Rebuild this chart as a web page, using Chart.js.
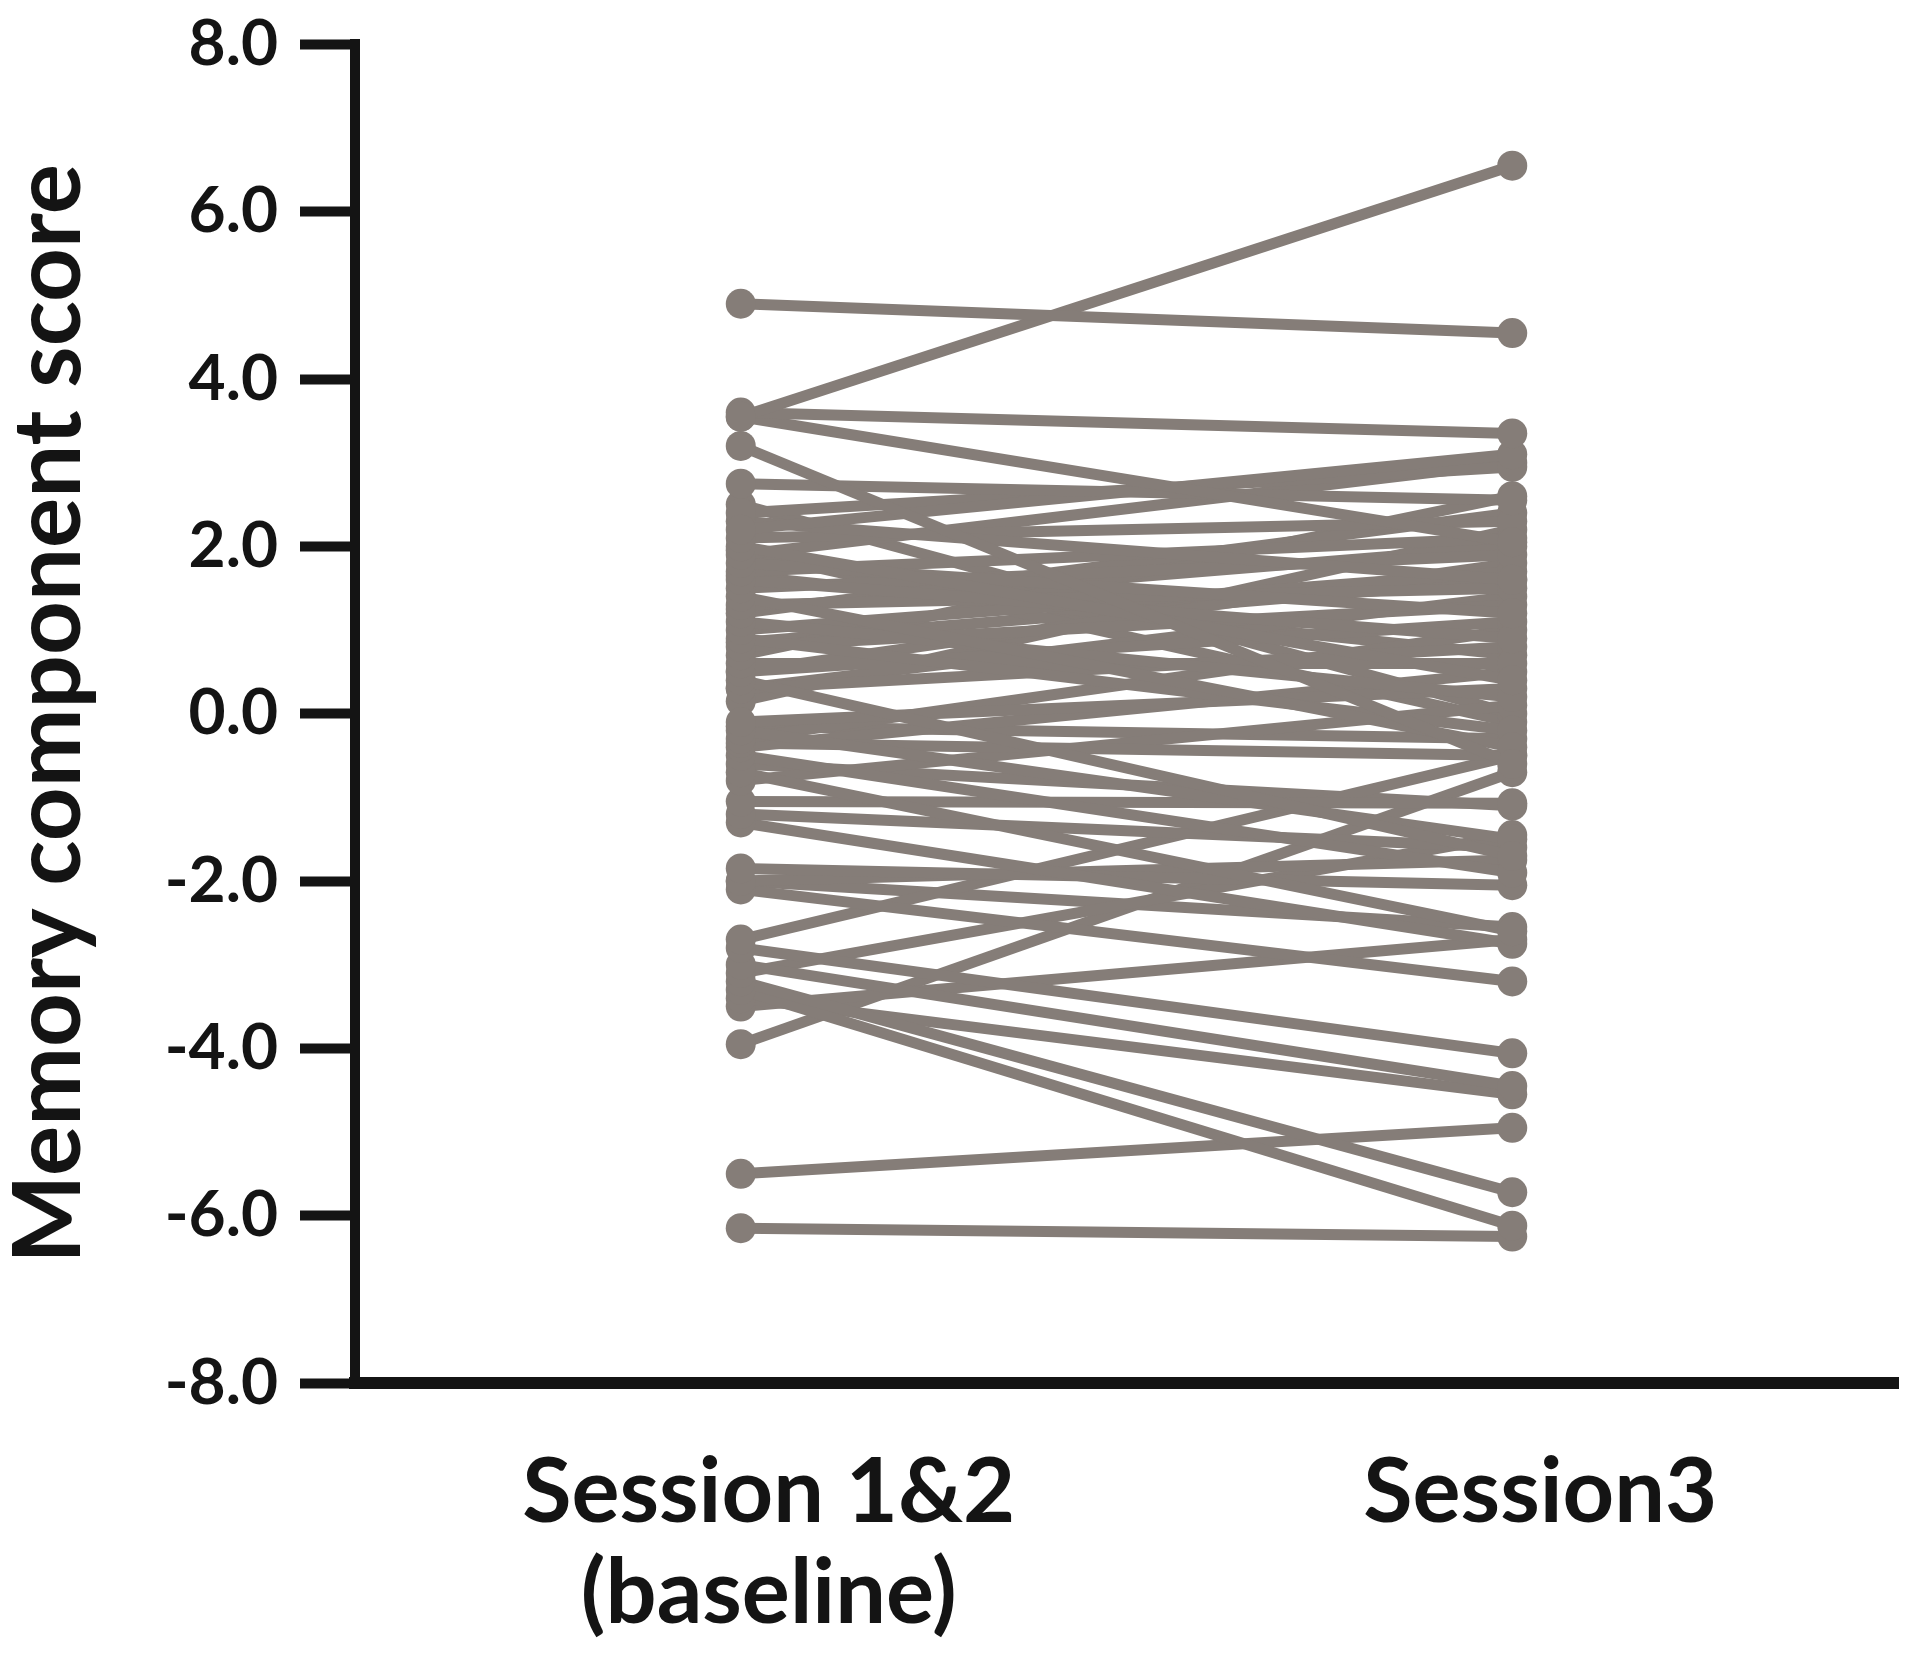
<!DOCTYPE html>
<html>
<head>
<meta charset="utf-8">
<script src="https://cdn.jsdelivr.net/npm/chart.js@4"></script>
<style>
  html, body { margin: 0; padding: 0; background: #fff; }
  #wrap { width: 1920px; height: 1655px; }
</style>
</head>
<body>
<div id="wrap"><canvas id="chart"></canvas></div>
<script>
// session labels (x categories)
const sessions = [['Session 1&2', '(baseline)'], 'Session3'];

// y axis tick values
const yTicks = [8, 6, 4, 2, 0, -2, -4, -6, -8];

// one score per subject
const baselineScores = [
  4.90, 3.55, 3.60, 3.55, 3.20, 2.75, 2.20, 2.40, 2.30, 2.10,
  2.00, 1.90, 1.80, 1.70, 1.60, 1.50, 1.40, 1.30, 1.20, 1.10,
  1.00, 0.90, 0.80, 0.70, 0.60, 0.50, 0.40, 0.30, 0.50, 0.30,
  -0.10, -0.20, -0.30, -0.35, -0.40, -0.50, -0.70, -0.80, -1.05, -1.20,
  -1.30, -1.85, -2.00, -2.10, -2.70, -2.80, -3.00, -3.10, -3.20, -3.30,
  -3.40, -3.50, -3.95, -5.50, -6.15, -2.00, 2.50, 1.95, 1.65, 1.25,
  0.85, 0.15, -0.15, -0.60
];
const session3Scores = [
  4.55, 6.55, 3.35, 2.05, -0.60, 2.55, 3.10, 2.95, 1.60, 2.30,
  0.40, 3.00, 1.20, 2.10, 0.90, 1.90, -0.40, 1.50, 2.40, 0.20,
  1.70, -0.20, 1.30, 2.60, 0.60, 1.10, -1.70, 0.80, 1.80, 1.40,
  0.30, -1.50, 1.00, -0.50, 0.50, -1.90, -2.60, 0.10, -1.07, -1.60,
  -2.75, -2.05, -1.75, -3.20, -0.50, -4.06, -4.45, -1.45, -5.72, -6.12,
  -4.55, -2.70, -0.70, -4.95, -6.25, -2.55, 0.00, -0.10, 0.70, 2.00,
  1.60, 2.20, -0.30, -1.10
];

const lineColor = '#857d78';
const inkColor = '#141414';
const fontFamily = 'Lato, "Open Sans", sans-serif';

const datasets = baselineScores.map((v, i) => ({
  data: [v, session3Scores[i]],
  borderColor: lineColor,
  backgroundColor: lineColor,
  borderWidth: 11,
  pointRadius: 15,
  pointBorderWidth: 0,
  pointHoverRadius: 15,
  tension: 0
}));

const ctx = document.getElementById('chart').getContext('2d');
new Chart(ctx, {
  type: 'line',
  data: {
    labels: sessions,
    datasets: datasets
  },
  options: {
    responsive: true,
    maintainAspectRatio: false,
    animation: false,
    layout: {
      padding: { top: 20, right: 22, bottom: 0, left: 0 }
    },
    plugins: {
      legend: { display: false },
      tooltip: { enabled: false }
    },
    scales: {
      x: {
        type: 'category',
        offset: true,
        grid: { display: false },
        border: { display: true, color: inkColor, width: 12 },
        ticks: {
          color: inkColor,
          padding: 52,
          labelOffset: 28,
          maxRotation: 0,
          font: { family: fontFamily, size: 90, weight: 'bold', lineHeight: 1.12 }
        },
        afterFit: (scale) => { scale.height = 272; }
      },
      y: {
        min: -8,
        max: 8,
        afterBuildTicks: (scale) => { scale.ticks = yTicks.map(v => ({ value: v })); },
        grid: {
          display: true,
          drawOnChartArea: false,
          drawTicks: true,
          tickLength: 55,
          tickWidth: 10,
          tickColor: inkColor
        },
        border: { display: true, color: inkColor, width: 10 },
        ticks: {
          color: inkColor,
          padding: 22,
          font: { family: fontFamily, size: 64, weight: 'bold', lineHeight: 0.7 },
          callback: (v) => Number(v).toFixed(1)
        },
        title: {
          display: true,
          text: 'Memory component score',
          color: inkColor,
          padding: 0,
          font: { family: fontFamily, size: 94, weight: 'bold', lineHeight: 1.05 }
        },
        afterFit: (scale) => { scale.width = 355; }
      }
    }
  }
});
</script>
</body>
</html>
